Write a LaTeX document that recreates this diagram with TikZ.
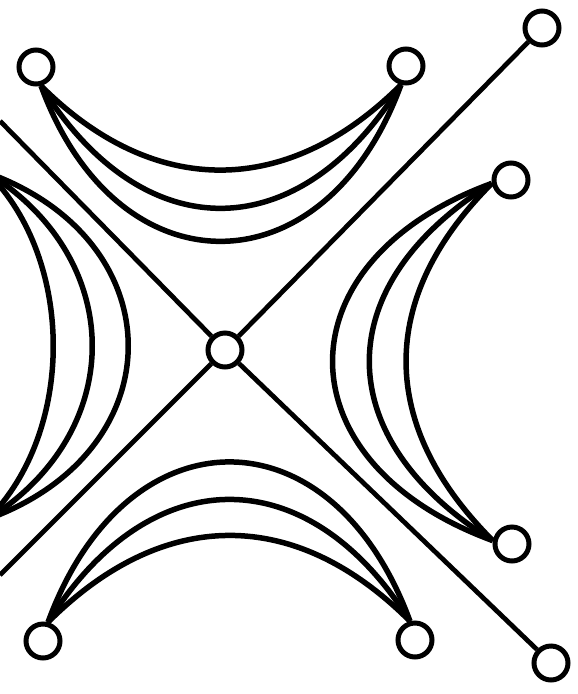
\documentclass[tikz,border=0pt]{standalone}
\begin{document}
\begin{tikzpicture}[x=0.02cm,y=-0.02cm,
  vtx/.style={circle,draw,line width=0.1cm,minimum size=0.68cm,inner sep=0pt,fill=white},
  edge/.style={line width=0.095cm},
  arcline/.style={line width=0.11cm}]
\useasboundingbox (0,0) rectangle (578,694);
\clip (0,0) rectangle (578,694);
\node[vtx] (tl) at (36,67) {};
\node[vtx] (tr) at (406,66) {};
\node[vtx] (rt) at (511,180) {};
\node[vtx] (rb) at (512,544) {};
\node[vtx] (bl) at (43,641) {};
\node[vtx] (br) at (415,640) {};
\node[vtx] (ftr) at (542,28) {};
\node[vtx] (fbr) at (551,663) {};
\node[vtx] (c) at (225,350) {};
\coordinate (lt) at (-12,173);
\coordinate (lb) at (-12,519);
\coordinate (e1) at (0,121);
\coordinate (e2) at (0,575);
% straight lines
\draw[edge] (ftr) -- (c) -- (e2);
\draw[edge] (e1) -- (c) -- (fbr);
% top arcs
\draw[arcline] (tl.-75) .. controls +(113,113) and +(-113,113) .. (tr.-105);
\draw[arcline] (tl.-75) .. controls +(102,164) and +(-102,164) .. (tr.-105);
\draw[arcline] (tl.-75) .. controls +(76,208) and +(-76,208) .. (tr.-105);
% bottom arcs
\draw[arcline] (bl.75) .. controls +(78,-213) and +(-78,-213) .. (br.105);
\draw[arcline] (bl.75) .. controls +(102,-163) and +(-102,-163) .. (br.105);
\draw[arcline] (bl.75) .. controls +(115,-115) and +(-115,-115) .. (br.105);
% right arcs
\draw[arcline] (rt.190) .. controls +(-213,78) and +(-213,-78) .. (rb.170);
\draw[arcline] (rt.190) .. controls +(-164,102) and +(-164,-102) .. (rb.170);
\draw[arcline] (rt.190) .. controls +(-115,115) and +(-115,-115) .. (rb.170);
% left arcs
\draw[arcline] (lt) .. controls +(187,68) and +(187,-68) .. (lb);
\draw[arcline] (lt) .. controls +(139,87) and +(139,-87) .. (lb);
\draw[arcline] (lt) .. controls +(87,87) and +(87,-87) .. (lb);
\end{tikzpicture}
\end{document}
